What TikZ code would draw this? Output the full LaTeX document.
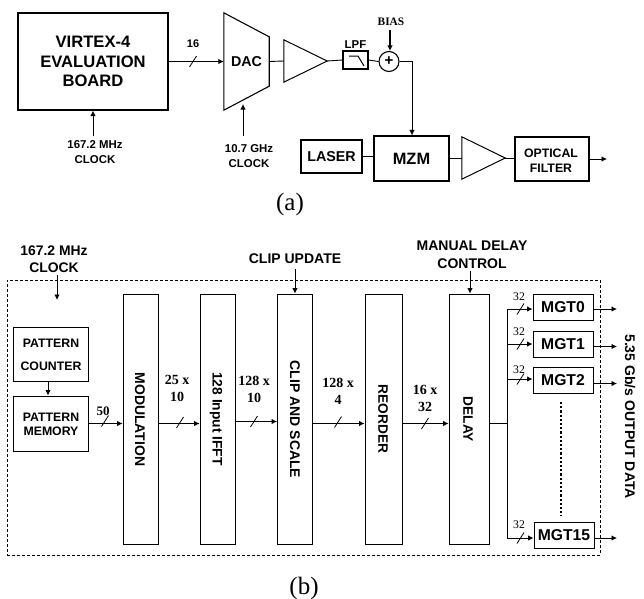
\documentclass[tikz,border=0pt]{standalone}
\usepackage{fontspec}
\usetikzlibrary{arrows.meta,calc}
\newfontfamily\sansb[BoldFont={Liberation Sans Bold}]{Liberation Sans}
\newfontfamily\serifb{Liberation Serif}
\newcommand{\sz}[1]{\fontsize{#1}{#1}\selectfont}
\tikzset{
  tip/.style={-{Latex[length=5.5pt,width=5.5pt]}},
  wire/.style={line width=.9pt},
  blk/.style={draw,line width=1.1pt,inner sep=0pt,align=center,font=\sansb\bfseries},
  tall/.style={blk,line width=.85pt},
  ghost/.style={inner sep=0pt,align=center,font=\sansb\bfseries},
  sanslab/.style={inner sep=0pt,align=center,font=\sansb\bfseries},
  seriflab/.style={inner sep=0pt,align=center,font=\serifb\bfseries},
  thinlab/.style={inner sep=0pt,align=center,font=\serifb\sz{11.7}},
  capt/.style={inner sep=0pt,font=\serifb\sz{25}},
  tick/.style={line width=.8pt},
}
% name, x1, y1, x2, y2, style, text
\newcommand{\bx}[7]{%
  \pgfmathsetmacro{\bcx}{(#2+#4)/2}\pgfmathsetmacro{\bcy}{(#3+#5)/2}%
  \pgfmathsetmacro{\bwd}{#4-#2}\pgfmathsetmacro{\bht}{#5-#3}%
  \node[#6,minimum width=\bwd pt,minimum height=\bht pt] (#1) at (\bcx,\bcy) {#7};}
\newcommand{\slashat}[2]{\draw[tick] (#1-3.5,#2+5.5) -- (#1+3.5,#2-5.5);}
\newcommand{\lab}[5]{\node[#2] (#1) at (#3,#4) {#5};}
\begin{document}
\begin{tikzpicture}[x=1pt,y=-1pt]
\useasboundingbox (0,0) rectangle (644,598);
% ---------- (a)
\bx{virtex}{18}{13}{168}{110}{blk}{\sz{16.6}VIRTEX-4\\[7.5pt]\sz{16.6}EVALUATION\\[7.5pt]\sz{16.6}BOARD}
\bx{dac}{224}{13}{269}{110}{ghost}{\sz{14.3}DAC}
\draw[line width=1.1pt,line join=miter] (dac.north west) -- ($(dac.north east)+(0,24)$) -- ($(dac.south east)+(0,-24)$) -- (dac.south west) -- cycle;
\bx{amp}{284}{40}{327}{82}{ghost}{}
\draw[line width=1pt] (amp.north west) -- (amp.east) -- (amp.south west) -- cycle;
\bx{lpf}{343}{51}{368}{69}{blk}{}
\draw[line width=1pt] (349,56) -- (358,56) -- (364,66);
\node[draw,circle,line width=1.1pt,minimum size=20pt,inner sep=0pt,font=\sansb\bfseries\sz{15}] (sum) at (389,61.5) {+};
\bx{laser}{301}{140}{362}{173}{blk}{\sz{14.3}LASER}
\bx{mzm}{374}{136}{449}{181}{blk}{\sz{16.4}MZM}
\bx{amp2}{462}{137}{505}{179}{ghost}{}
\draw[line width=1pt] (amp2.north west) -- (amp2.east) -- (amp2.south west) -- cycle;
\bx{opt}{515}{137}{589}{181}{blk}{}
\lab{optt}{sanslab,font=\sansb\bfseries\sz{12.3}}{551}{160.5}{OPTICAL\\[3pt]FILTER}
\lab{n16}{sanslab,font=\sansb\bfseries\sz{11}}{193}{44}{16}
\lab{clkA}{sanslab,font=\sansb\bfseries\sz{11.4}}{95}{152}{167.2 MHz\\[3pt]CLOCK}
\lab{clkB}{sanslab,font=\sansb\bfseries\sz{11.4}}{249}{156}{10.7 GHz\\[3pt]CLOCK}
\lab{lpfl}{sanslab,font=\sansb\bfseries\sz{11.4}}{355.5}{45}{LPF}
\lab{bias}{seriflab,font=\serifb\bfseries\sz{11.4}}{391}{22}{BIAS}
\lab{capa}{capt}{290}{204}{(a)}
\coordinate (clkAtop) at (93,136);
\coordinate (clkBtop) at (243,136);
\coordinate (clkBend) at (243,104);
\coordinate (biasb) at (390,30);
\coordinate (corner) at (412,61.5);
\coordinate (optout) at (607,159);
\draw[wire,tip] (virtex.east) -- (dac.west);
\slashat{193}{61.5}
\draw[wire] (dac.east) -- (amp.west);
\draw[wire] (amp.east) -- (lpf.west);
\draw[wire] (lpf.east) -- (sum.west);
\draw[wire,tip] (clkAtop) -- (clkAtop |- virtex.south);
\draw[wire,tip] (clkBtop) -- (clkBend);
\draw[wire,line width=1.2pt,tip] (biasb) -- (biasb |- sum.north);
\draw[wire,tip] (sum.east) -- (corner) -- (corner |- mzm.north);
\draw[wire] (laser.east) -- (mzm.west |- laser.east);
\draw[wire] (mzm.east) -- (amp2.west |- mzm.east);
\draw[wire] (amp2.east) -- (opt.west |- amp2.east);
\draw[wire,tip] (opt.east |- optout) -- (optout);
% ---------- (b)
\bx{dash}{7}{280}{600}{555}{inner sep=0pt,draw,densely dashed,line width=.7pt}{}
\bx{cnt}{13}{327}{88}{381}{blk,line width=.9pt}{}
\lab{cntt}{sanslab,font=\sansb\bfseries\sz{12.3}}{51}{355}{PATTERN\\[11pt]COUNTER}
\bx{mem}{13}{396}{88}{451}{blk,line width=.9pt}{}
\lab{memt}{sanslab,font=\sansb\bfseries\sz{12.3}}{51}{424.5}{PATTERN\\[2pt]MEMORY}
\bx{mod}{123}{294}{158}{544}{tall}{}
\bx{ifft}{200}{294}{235}{544}{tall}{}
\bx{clip}{277.5}{294}{312}{544}{tall}{}
\bx{reo}{365}{294}{402}{544}{tall}{}
\bx{del}{449}{294}{489}{544}{tall}{}
\node[sanslab,rotate=-90,font=\sansb\bfseries\sz{14}] (modt) at (140,419.5) {MODULATION};
\node[sanslab,rotate=-90,font=\sansb\bfseries\sz{13.8}] (ifftt) at (216,419) {128 Input IFFT};
\node[sanslab,rotate=-90,font=\sansb\bfseries\sz{14}] (clipt) at (295,419.5) {CLIP AND SCALE};
\node[sanslab,rotate=-90,font=\sansb\bfseries\sz{13.7}] (reot) at (383,419) {REORDER};
\node[sanslab,rotate=-90,font=\sansb\bfseries\sz{13.7}] (delt) at (468,419.5) {DELAY};
\bx{m0}{533}{294}{593}{320}{blk,line width=.95pt}{\sz{15.7}MGT0}
\bx{m1}{533}{331}{593}{357.5}{blk,line width=.95pt}{\sz{15.7}MGT1}
\bx{m2}{533}{367}{593}{393}{blk,line width=.95pt}{\sz{15.7}MGT2}
\bx{m15}{534}{522}{594}{548}{blk,line width=.95pt}{\sz{15.7}MGT15}
\lab{clkC}{sanslab,font=\sansb\bfseries\sz{13.9}}{54}{259}{167.2 MHz\\[3.5pt]CLOCK}
\lab{clipu}{sanslab,font=\sansb\bfseries\sz{14}}{295}{259}{CLIP UPDATE}
\lab{man}{sanslab,font=\sansb\bfseries\sz{14}}{472}{254.5}{MANUAL DELAY\\[3.5pt]CONTROL}
\node[sanslab,rotate=-90,font=\sansb\bfseries\sz{14}] (out) at (630,416.5) {5.35 Gb/s OUTPUT DATA};
\lab{l50}{seriflab,font=\serifb\bfseries\sz{13}}{103}{411}{50}
\lab{l25}{seriflab,font=\serifb\bfseries\sz{14}}{177}{388.5}{25 x\\[3pt]10}
\lab{l128a}{seriflab,font=\serifb\bfseries\sz{14}}{254}{389.5}{128 x\\[3pt]10}
\lab{l128b}{seriflab,font=\serifb\bfseries\sz{14}}{338}{391.5}{128 x\\[3pt]4}
\lab{l16}{seriflab,font=\serifb\bfseries\sz{14}}{425}{398.5}{16 x\\[3pt]32}
\lab{t0}{thinlab}{519}{297}{32}
\lab{t1}{thinlab}{519}{332}{32}
\lab{t2}{thinlab}{519}{370}{32}
\lab{t15}{thinlab}{519}{525}{32}
\lab{capb}{capt}{304}{588}{(b)}
\coordinate (clkCb) at (57,275);
\coordinate (clkCe) at (57,300);
\coordinate (clipb) at (295,269);
\coordinate (manb) at (470,271);
\coordinate (cntx) at (48,381);
\coordinate (y421) at (0,421.5);
\coordinate (bus) at (507,423.5);
\coordinate (b0) at (507,309);
\coordinate (b1) at (507,344);
\coordinate (b2) at (507,379);
\coordinate (b15) at (507,538);
\coordinate (o0) at (617,309);
\coordinate (o1) at (617,346.5);
\coordinate (o2) at (617,383.5);
\coordinate (o15) at (617,538);
\coordinate (dota) at (561,402);
\coordinate (dotb) at (561,516);
\draw[wire,tip] (clkCb) -- (clkCe);
\draw[wire,tip] (clipb) -- (clipb |- clip.north);
\draw[wire,tip] (manb) -- (manb |- del.north);
\draw[wire,tip] (cntx |- cnt.south) -- (cntx |- mem.north);
\draw[wire,tip] (mem.east) -- (mod.west |- mem.east);
\slashat{105}{421}
\draw[wire,tip] (mod.east |- mem.east) -- (ifft.west |- mem.east);
\slashat{180}{422.5}
\draw[wire,tip] (ifft.east |- y421) -- (clip.west |- y421);
\slashat{254}{421.5}
\draw[wire,tip] (clip.east |- mem.east) -- (reo.west |- mem.east);
\slashat{338}{422}
\draw[wire,tip] (reo.east |- bus) -- (del.west |- bus);
\slashat{425}{423.5}
\draw[wire] (del.east |- bus) -- (bus);
\draw[wire] (b0) -- (b15);
\draw[wire,tip] (b0) -- (m0.west |- b0);
\draw[wire,tip] (b1) -- (m1.west |- b1);
\draw[wire,tip] (b2) -- (m2.west |- b2);
\draw[wire,tip] (b15) -- (m15.west |- b15);
\slashat{520.5}{309}
\slashat{520.5}{344}
\slashat{520.5}{379}
\slashat{520.5}{538}
\draw[wire,tip] (m0.east |- o0) -- (o0);
\draw[wire,tip] (m1.east |- o1) -- (o1);
\draw[wire,tip] (m2.east |- o2) -- (o2);
\draw[wire,tip] (m15.east |- o15) -- (o15);
\draw[line width=2.2pt,dash pattern=on 2.2pt off 2pt] (dota) -- (dotb);
\end{tikzpicture}
\end{document}
